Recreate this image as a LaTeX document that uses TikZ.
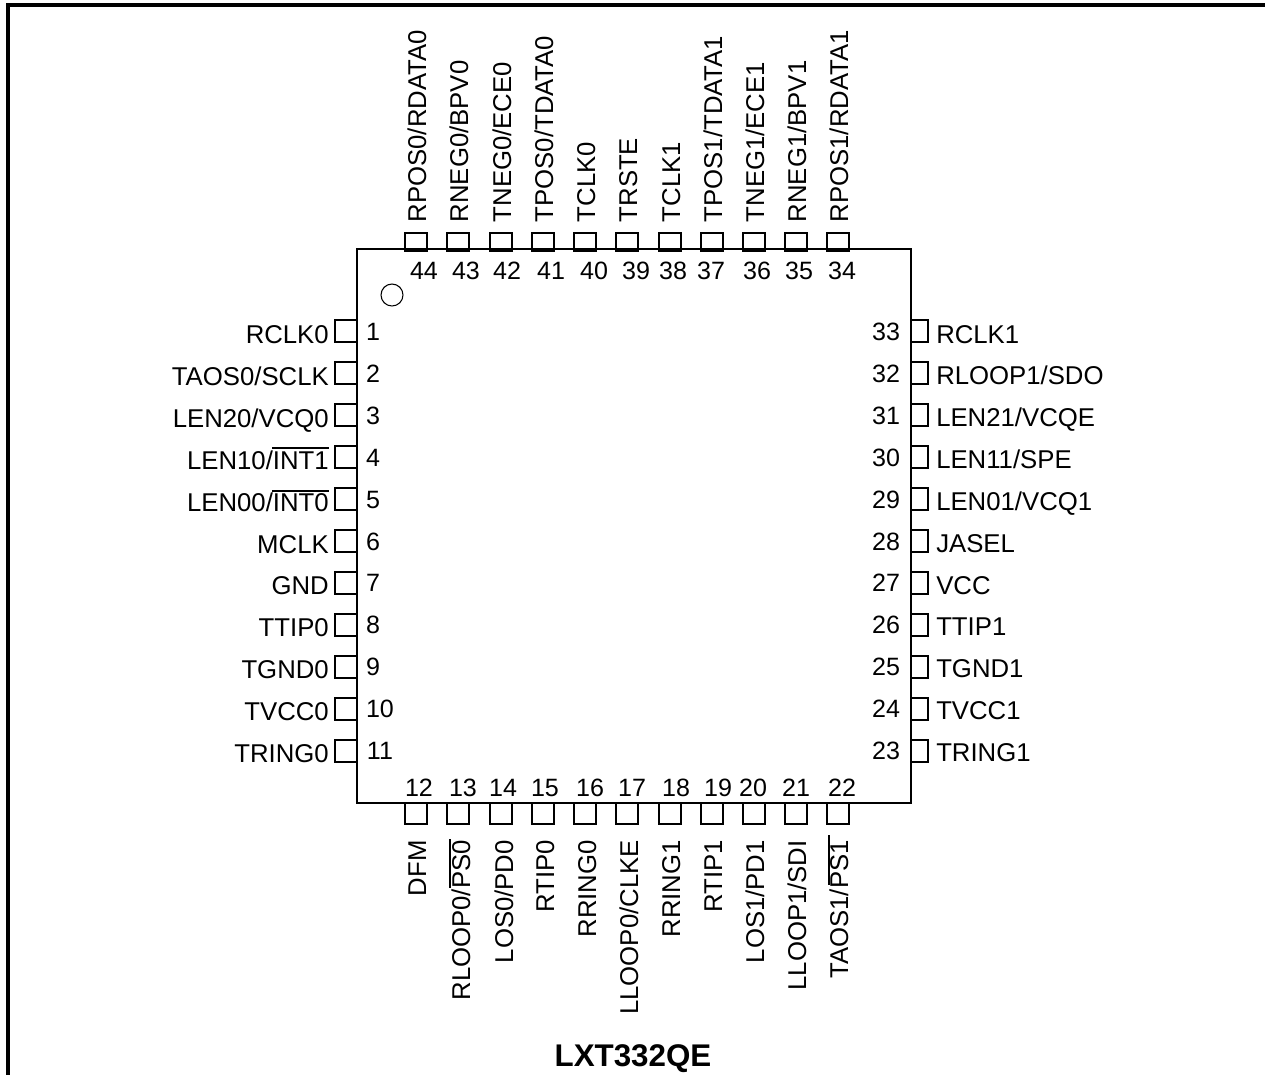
\documentclass[tikz,border=0pt]{standalone}
\usepackage{fontspec}
\setmainfont{Liberation Sans}
\begin{document}
\begin{tikzpicture}[x=0.75pt,y=-0.75pt,
  chipbox/.style={draw=black,line width=1.6pt,inner sep=0pt,minimum width=415.5pt,minimum height=415.5pt},
  pinv/.style={draw=black,line width=1.5pt,fill=white,inner sep=0pt,minimum width=16pt},
  pinh/.style={draw=black,line width=1.5pt,fill=white,inner sep=0pt,minimum height=16pt},
  sig/.style={inner sep=0pt,font=\fontsize{19.3}{20}\selectfont},
  pnum/.style={inner sep=0pt,font=\fontsize{18.8}{20}\selectfont},
  bar/.style={draw=black,line width=1.6pt},
  frameline/.style={draw=black,line width=3.2pt}]
\useasboundingbox (0,0) rectangle (1265,1075);
\fill[white] (0,0) rectangle (1265,1075);
% frame
\coordinate (fa) at (8,1075); \coordinate (fb) at (8,5); \coordinate (fc) at (1265,5);
\draw[frameline,line join=miter] (fa) -- (fb) -- (fc);
% top pins
\foreach \n/\x/\nx/\t in {44/416/424/{RPOS0/RDATA0},43/458/466/{RNEG0/BPV0},42/501/507/{TNEG0/ECE0},41/543/551/{TPOS0/TDATA0},40/585/594/{TCLK0},39/627/636/{TRSTE},38/670/673/{TCLK1},37/712/711/{TPOS1/TDATA1},36/754/757/{TNEG1/ECE1},35/796/799/{RNEG1/BPV1},34/838/842/{RPOS1/RDATA1}}{
  \node[pinv,minimum height=13.5pt] (pin\n) at (\x,241.5) {};
  \node[sig,rotate=90,anchor=base west] (lab\n) at (\x+10,222.5) {\t};
  \node[pnum,anchor=base] (num\n) at (\nx,279.5) {\n};
}
% bottom pins
\foreach \n/\x/\lx/\nx/\t in {12/416/416/419/{DFM},13/458/460/463/{RLOOP0/PS0},14/501/503/503/{LOS0/PD0},15/543/544/545/{RTIP0},16/585/586/590/{RRING0},17/627/628/632/{LLOOP0/CLKE},18/670/670/676/{RRING1},19/712/712/718/{RTIP1},20/754/754/753/{LOS1/PD1},21/796/796/796/{LLOOP1/SDI},22/838/838/842/{TAOS1/PS1}}{
  \node[pinv,minimum height=16pt] (pin\n) at (\x,813.5) {};
  \node[sig,rotate=90,anchor=base east] (lab\n) at (\lx+10,840) {\t};
  \node[pnum,anchor=base] (num\n) at (\nx,796) {\n};
}
% left pins
\foreach \n/\i/\nx/\t in {1/0/373/{RCLK0},2/1/373/{TAOS0/SCLK},3/2/373/{LEN20/VCQ0},4/3/373/{LEN10/INT1},5/4/373/{LEN00/INT0},6/5/373/{MCLK},7/6/373/{GND},8/7/373/{TTIP0},9/8/373/{TGND0},10/9/380/{TVCC0},11/10/380/{TRING0}}{
  \node[pinh,minimum width=16.5pt] (pin\n) at (346,331+42*\i) {};
  \node[sig,anchor=base east] (lab\n) at (329,343.5+41.9*\i) {\t};
  \node[pnum,anchor=base] (num\n) at (\nx,340.5+41.9*\i) {\n};
}
% right pins
\foreach \n/\i/\t in {33/0/{RCLK1},32/1/{RLOOP1/SDO},31/2/{LEN21/VCQE},30/3/{LEN11/SPE},29/4/{LEN01/VCQ1},28/5/{JASEL},27/6/{VCC},26/7/{TTIP1},25/8/{TGND1},24/9/{TVCC1},23/10/{TRING1}}{
  \node[pinh,minimum width=13pt] (pin\n) at (919.5,331+42*\i) {};
  \node[sig,anchor=base west] (lab\n) at (936,343+41.85*\i) {\t};
  \node[pnum,anchor=base] (num\n) at (886,340.5+41.9*\i) {\n};
}
% chip body
\node[chipbox] (chip) at (634,526) {};
\node[circle,draw=black,line width=0.8pt,minimum size=16.5pt,inner sep=0pt] (dot) at (392,295) {};
% negation bars
\draw[bar] (272,448) -- (329,448);
\draw[bar] (272,491) -- (329,491);
\draw[bar,line width=2pt] (450,839) -- (450,888);
\draw[bar,line width=2pt] (829,835) -- (829,885);
% title
\node[inner sep=0pt,anchor=base,font=\fontsize{23.5}{24}\selectfont\bfseries] (title) at (633,1066) {LXT332QE};
\end{tikzpicture}
\end{document}
